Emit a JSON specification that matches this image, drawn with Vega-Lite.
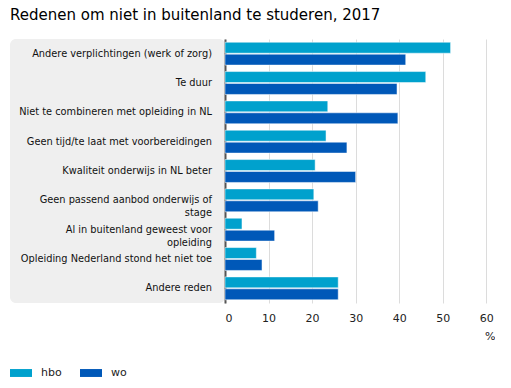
{
  "$schema": "https://vega.github.io/schema/vega-lite/v6.json",
  "padding": {"left": 10, "top": 8, "right": 0, "bottom": 0},
  "bounds": "flush",
  "title": {"text": "Redenen om niet in buitenland te studeren, 2017", "anchor": "start", "fontSize": 15, "fontWeight": "normal", "font": "DejaVu Sans", "color": "#000", "offset": 16},
  "config": {"font": "DejaVu Sans", "concat": {"spacing": 0}},
  "data": {"values": [
    {"reason": "Andere verplichtingen (werk of zorg)", "label": "Andere verplichtingen (werk of zorg)", "series": "hbo", "value": 51.8},
    {"reason": "Andere verplichtingen (werk of zorg)", "label": "Andere verplichtingen (werk of zorg)", "series": "wo", "value": 41.5},
    {"reason": "Te duur", "label": "Te duur", "series": "hbo", "value": 46.1},
    {"reason": "Te duur", "label": "Te duur", "series": "wo", "value": 39.5},
    {"reason": "Niet te combineren met opleiding in NL", "label": "Niet te combineren met opleiding in NL", "series": "hbo", "value": 23.6},
    {"reason": "Niet te combineren met opleiding in NL", "label": "Niet te combineren met opleiding in NL", "series": "wo", "value": 39.7},
    {"reason": "Geen tijd/te laat met voorbereidingen", "label": "Geen tijd/te laat met voorbereidingen", "series": "hbo", "value": 23.2},
    {"reason": "Geen tijd/te laat met voorbereidingen", "label": "Geen tijd/te laat met voorbereidingen", "series": "wo", "value": 28.0},
    {"reason": "Kwaliteit onderwijs in NL beter", "label": "Kwaliteit onderwijs in NL beter", "series": "hbo", "value": 20.7},
    {"reason": "Kwaliteit onderwijs in NL beter", "label": "Kwaliteit onderwijs in NL beter", "series": "wo", "value": 30.0},
    {"reason": "Geen passend aanbod onderwijs of stage", "label": "Geen passend aanbod onderwijs of\nstage", "series": "hbo", "value": 20.4},
    {"reason": "Geen passend aanbod onderwijs of stage", "label": "Geen passend aanbod onderwijs of\nstage", "series": "wo", "value": 21.4},
    {"reason": "Al in buitenland geweest voor opleiding", "label": "Al in buitenland geweest voor\nopleiding", "series": "hbo", "value": 3.9},
    {"reason": "Al in buitenland geweest voor opleiding", "label": "Al in buitenland geweest voor\nopleiding", "series": "wo", "value": 11.4},
    {"reason": "Opleiding Nederland stond het niet toe", "label": "Opleiding Nederland stond het niet toe", "series": "hbo", "value": 7.2},
    {"reason": "Opleiding Nederland stond het niet toe", "label": "Opleiding Nederland stond het niet toe", "series": "wo", "value": 8.5},
    {"reason": "Andere reden", "label": "Andere reden", "series": "hbo", "value": 26.0},
    {"reason": "Andere reden", "label": "Andere reden", "series": "wo", "value": 26.0}
  ]},
  "hconcat": [
    {
      "width": 215,
      "height": 264,
      "view": {"fill": "#efefef", "stroke": null, "cornerRadius": 6},
      "transform": [{"filter": "datum.series === 'hbo'"}],
      "mark": {"type": "text", "align": "right", "baseline": "middle", "dx": -13, "fontSize": 9.8, "color": "#111", "lineBreak": "\n", "lineHeight": 13},
      "encoding": {
        "y": {"field": "reason", "type": "nominal", "sort": null, "axis": null, "scale": {"paddingInner": 0.22, "paddingOuter": 0.11}},
        "x": {"datum": 1, "type": "quantitative", "scale": {"domain": [0, 1]}, "axis": null},
        "text": {"field": "label"}
      }
    },
    {
      "width": 270,
      "height": 264,
      "view": {"stroke": null},
      "mark": {"type": "bar", "stroke": "white", "strokeWidth": 0.5},
      "encoding": {
        "y": {"field": "reason", "type": "nominal", "sort": null, "scale": {"paddingInner": 0.22, "paddingOuter": 0.11},
          "axis": {"labels": false, "ticks": false, "title": null, "domainColor": "#555", "domainWidth": 2, "minExtent": 0, "maxExtent": 0, "offset": 0}},
        "yOffset": {"field": "series", "type": "nominal", "scale": {"paddingInner": 0.08}},
        "x": {"field": "value", "type": "quantitative", "scale": {"domain": [0, 62], "nice": false},
          "axis": {"values": [0, 10, 20, 30, 40, 50, 60], "domain": false, "ticks": false, "gridColor": "#dcdcdc", "gridWidth": 1, "labelFontSize": 11, "labelColor": "#222", "labelPadding": 9, "title": "%", "titleFontWeight": "normal", "titleFontSize": 11, "titleColor": "#222", "titleAnchor": "end", "titleAlign": "right", "titleDx": 12, "titlePadding": 7}},
        "color": {"field": "series", "type": "nominal", "scale": {"domain": ["hbo", "wo"], "range": ["#00a1cd", "#0058b8"]},
          "legend": {"orient": "none", "legendX": 0, "legendY": 323, "direction": "horizontal", "title": null, "symbolType": "M-1,-0.36L1,-0.36L1,0.36L-1,0.36Z", "symbolSize": 484, "symbolStrokeWidth": 0, "labelFontSize": 11, "labelColor": "#222", "columnPadding": 18, "labelOffset": 9}}
      }
    }
  ]
}
